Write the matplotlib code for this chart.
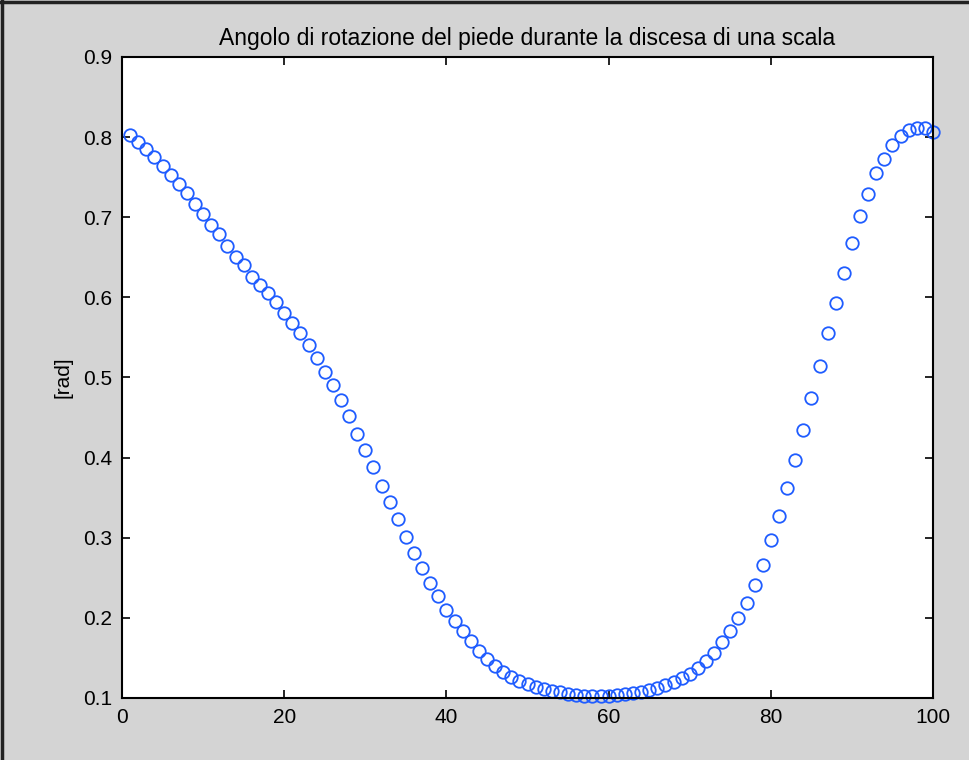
import matplotlib
matplotlib.use('Agg')
import matplotlib.pyplot as plt
from matplotlib.lines import Line2D

plt.rcParams['font.family'] = ['Liberation Sans', 'DejaVu Sans']

# campioni 1..100 e angolo del piede [rad]
campioni = list(range(1, 101))
angolo = [
    0.803, 0.794, 0.785, 0.775, 0.764, 0.753, 0.741, 0.730, 0.716, 0.704,
    0.690, 0.679, 0.664, 0.651, 0.640, 0.626, 0.615, 0.605, 0.594, 0.580,
    0.568, 0.555, 0.540, 0.524, 0.507, 0.491, 0.472, 0.452, 0.430, 0.409,
    0.388, 0.365, 0.344, 0.323, 0.301, 0.281, 0.262, 0.243, 0.227, 0.210,
    0.196, 0.183, 0.171, 0.159, 0.149, 0.140, 0.132, 0.126, 0.121, 0.117,
    0.114, 0.111, 0.109, 0.107, 0.105, 0.104, 0.103, 0.102, 0.102, 0.103,
    0.104, 0.105, 0.106, 0.108, 0.110, 0.113, 0.116, 0.120, 0.125, 0.130,
    0.137, 0.146, 0.156, 0.170, 0.184, 0.200, 0.219, 0.241, 0.266, 0.297,
    0.3275, 0.3625, 0.3975, 0.435, 0.475, 0.514, 0.556, 0.593, 0.631, 0.668,
    0.701, 0.729, 0.755, 0.773, 0.790, 0.801, 0.809, 0.811, 0.811, 0.806,
]
xticks = [0, 20, 40, 60, 80, 100]
yticks = [0.1, 0.2, 0.3, 0.4, 0.5, 0.6, 0.7, 0.8, 0.9]

fig = plt.figure(figsize=(9.7, 7.6), dpi=100, facecolor='#d4d4d4')
ax = fig.add_axes([0.1258, 0.0816, 0.8361, 0.8434])
ax.set_facecolor('white')

ax.plot(campioni, angolo, 'o', markersize=9, markerfacecolor='none',
        markeredgecolor='#1f5cff', markeredgewidth=1.3, clip_on=False)

ax.set_xlim(0, 100)
ax.set_ylim(0.1, 0.9)
ax.set_xticks(xticks)
ax.set_yticks(yticks)
ax.set_yticklabels([f'{v:.1f}' for v in yticks])
ax.tick_params(direction='in', length=6, width=1.2, labelsize=15,
               top=True, right=True, pad=7, colors='black')
for s in ax.spines.values():
    s.set_linewidth(1.5)

ax.set_title('Angolo di rotazione del piede durante la discesa di una scala',
             fontsize=16.5, pad=9)
ax.set_ylabel('[rad]', fontsize=15, labelpad=8)

# cornice scura sul bordo sinistro e superiore
fig.add_artist(Line2D([0.002, 0.002], [0, 1], color='#222222', lw=2.5,
                      transform=fig.transFigure))
fig.add_artist(Line2D([0, 1], [0.998, 0.998], color='#222222', lw=2.5,
                      transform=fig.transFigure))

fig.savefig('out.png', dpi=100, facecolor=fig.get_facecolor())
